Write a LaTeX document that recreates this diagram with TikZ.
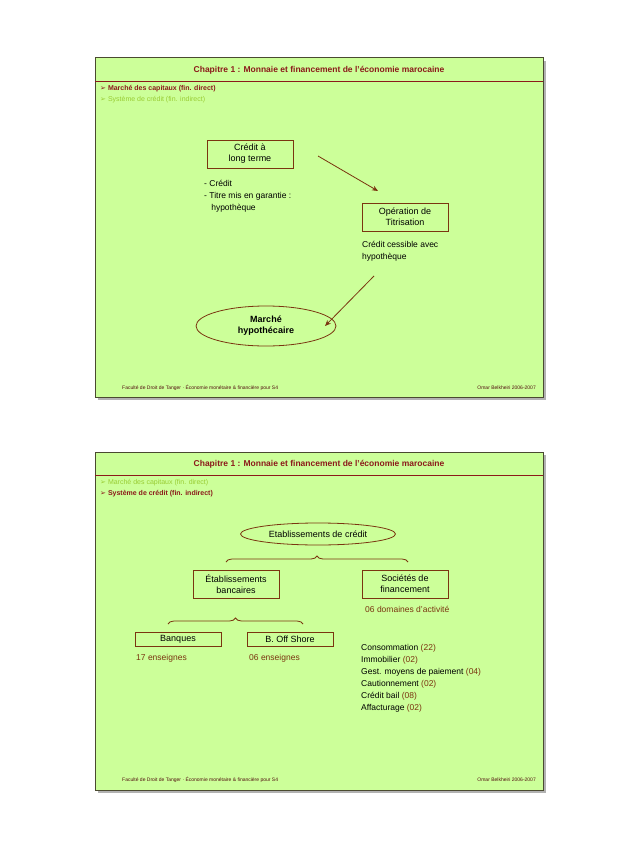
\documentclass[tikz,border=0pt]{standalone}
\usepackage{fontspec}
\setmainfont{Liberation Sans}
\newfontfamily\djv{DejaVu Sans}
\usetikzlibrary{decorations.pathreplacing,shapes.geometric,arrows.meta}
\definecolor{bg}{HTML}{CCFF99}
\definecolor{dred}{HTML}{8B1A1A}
\definecolor{brn}{HTML}{7A3510}
\definecolor{lgr}{HTML}{99CC33}
\definecolor{frm}{HTML}{4A4A30}
\begin{document}
\begin{tikzpicture}[x=1pt,y=-1pt,
  panel/.style={fill=bg,draw=frm,line width=1pt},
  hdr/.style={font=\bfseries\fontsize{8.5}{10}\selectfont,text=dred},
  bon/.style={anchor=west,font=\bfseries\fontsize{7}{8}\selectfont,text=dred,inner sep=0},
  boff/.style={anchor=west,font=\fontsize{7}{8}\selectfont,text=lgr,inner sep=0},
  foot/.style={font=\fontsize{5}{6}\selectfont,text=dred!60!black,inner sep=0},
  bx/.style={draw=brn,line width=0.8pt,align=center,font=\fontsize{9}{11}\selectfont,inner sep=0},
  txt/.style={anchor=north west,align=left,font=\fontsize{8.5}{12}\selectfont,inner sep=0},
  arr/.style={draw=brn,line width=0.8pt,-{Stealth[length=6pt,width=5pt]}},
  brc/.style={draw=brn,line width=0.8pt,decorate,decoration={brace,amplitude=6pt}}]
\useasboundingbox (0,0) rectangle (638,850);
% panel 1
\fill[gray!60] (98,61) rectangle (546,400);
\draw[panel] (95,58) rectangle (543,397);
\draw[dred,line width=0.6pt] (95,81) -- (543,81);
\node[hdr] (h1) at (319,70) {Chapitre 1 : Monnaie et financement de l’économie marocaine};
\node[bon] (b11) at (100,89) {{\djv ➢} Marché des capitaux (fin. direct)};
\node[boff] (b12) at (100,100) {{\djv ➢} Système de crédit (fin. indirect)};
\node[bx,minimum width=86,minimum height=28] (clt) at (250,154) {Crédit à\\long terme};
\node[txt] (l1) at (204,180) {- Crédit\\- Titre mis en garantie :\\\ \ \ hypothèque};
\node[bx,minimum width=86,minimum height=28] (tit) at (405,217) {Opération de\\Titrisation};
\node[txt] (l2) at (362,241) {Crédit cessible avec\\hypothèque};
\node[ellipse,draw=brn,line width=0.8pt,minimum width=140,minimum height=40,align=center,font=\bfseries\fontsize{9}{11}\selectfont] (mh) at (266,326) {Marché\\hypothécaire};
\coordinate (a1s) at (318,156);\coordinate (a1e) at (378,191);
\coordinate (a2s) at (374,276);\coordinate (a2e) at (325,326);
\draw[arr] (a1s) -- (a1e);
\draw[arr] (a2s) -- (a2e);
\node[foot,anchor=west] (f1) at (122,388) {Faculté de Droit de Tanger · Économie monétaire \& financière pour S4};
\node[foot,anchor=east] (f2) at (536,388) {Omar Belkheiri 2006-2007};
% panel 2
\fill[gray!60] (98,455) rectangle (546,793);
\draw[panel] (95,452) rectangle (543,790);
\draw[dred,line width=0.6pt] (95,475) -- (543,475);
\node[hdr] (h2) at (319,464) {Chapitre 1 : Monnaie et financement de l’économie marocaine};
\node[boff] (b21) at (100,483) {{\djv ➢} Marché des capitaux (fin. direct)};
\node[bon] (b22) at (100,494) {{\djv ➢} Système de crédit (fin. indirect)};
\node[ellipse,draw=brn,line width=0.8pt,minimum width=155,minimum height=22,inner sep=0,font=\fontsize{9}{11}\selectfont] (ec) at (318,534) {Etablissements de crédit};
\draw[brc] (226,562) -- (408,562);
\node[bx,minimum width=86,minimum height=28] (eb) at (236,584) {Établissements\\bancaires};
\node[bx,minimum width=86,minimum height=28] (sf) at (405,584) {Sociétés de\\financement};
\node[txt,text=brn] (dom) at (365,606) {06 domaines d’activité};
\draw[brc] (168,624) -- (303,624);
\node[bx,minimum width=86,minimum height=14] (ban) at (178,639) {Banques};
\node[bx,minimum width=86,minimum height=14] (bos) at (290,639) {B. Off Shore};
\node[txt,text=brn] (e17) at (136,654) {17 enseignes};
\node[txt,text=brn] (e06) at (249,654) {06 enseignes};
\node[txt] (lst) at (361,644) {Consommation \textcolor{brn}{(22)}\\Immobilier \textcolor{brn}{(02)}\\Gest. moyens de paiement \textcolor{brn}{(04)}\\Cautionnement \textcolor{brn}{(02)}\\Crédit bail \textcolor{brn}{(08)}\\Affacturage \textcolor{brn}{(02)}};
\node[foot,anchor=west] (f3) at (122,780) {Faculté de Droit de Tanger · Économie monétaire \& financière pour S4};
\node[foot,anchor=east] (f4) at (536,780) {Omar Belkheiri 2006-2007};
\end{tikzpicture}
\end{document}
